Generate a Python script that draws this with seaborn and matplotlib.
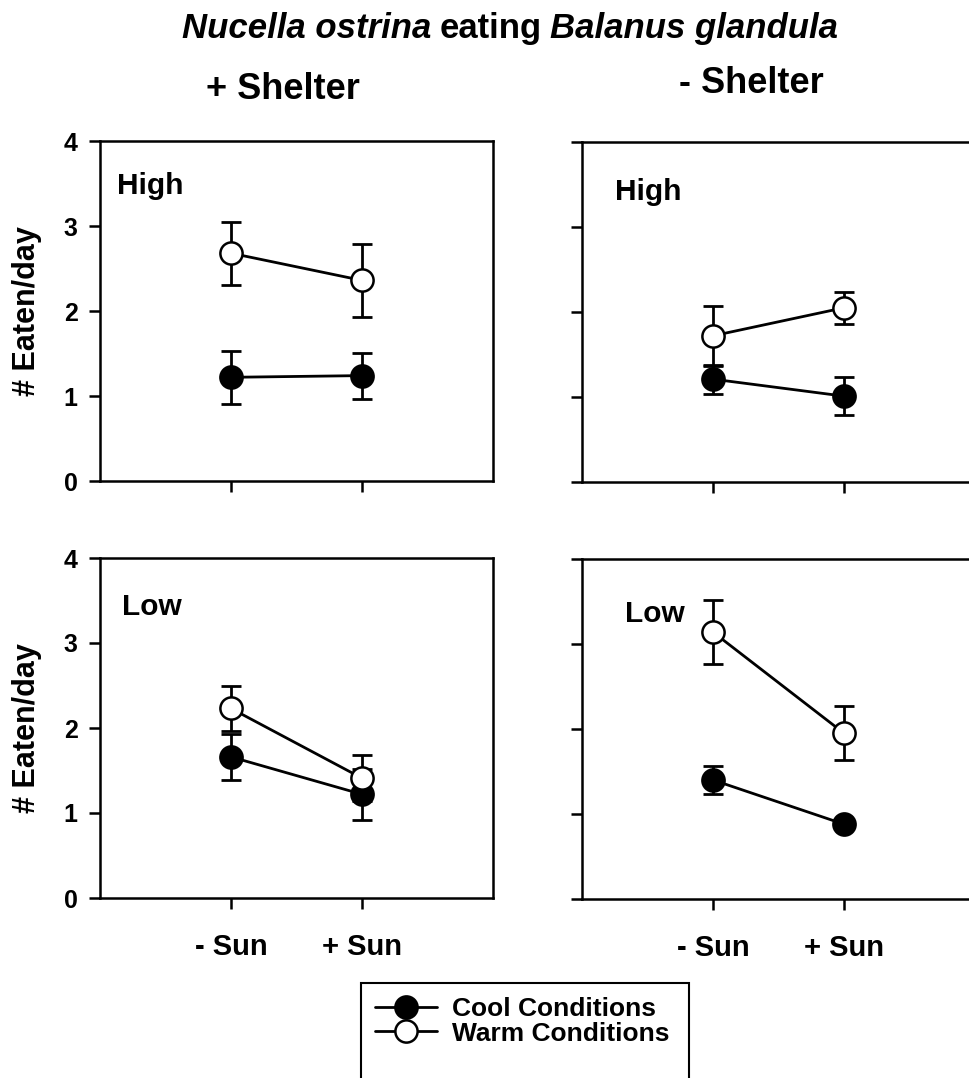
import seaborn as sns
import matplotlib.pyplot as plt
import pandas as pd
from matplotlib.lines import Line2D
from matplotlib.patches import Rectangle

# --- data (mean and error bar half-length) ---
sun_labels = ["- Sun", "+ Sun"]
sun_pos = [0, 1]

warm_plus_high = [2.68, 2.36]
warm_plus_high_err = [0.37, 0.43]
cool_plus_high = [1.22, 1.24]
cool_plus_high_err = [0.31, 0.27]

warm_minus_high = [1.72, 2.05]
warm_minus_high_err = [0.35, 0.19]
cool_minus_high = [1.21, 1.01]
cool_minus_high_err = [0.17, 0.22]

warm_plus_low = [2.23, 1.41]
warm_plus_low_err = [0.26, 0.27]
cool_plus_low = [1.66, 1.22]
cool_plus_low_err = [0.27, 0.30]

warm_minus_low = [3.14, 1.95]
warm_minus_low_err = [0.38, 0.32]
cool_minus_low = [1.40, 0.88]
cool_minus_low_err = [0.165, 0.04]

panels = [
    ("High", cool_plus_high, cool_plus_high_err, warm_plus_high, warm_plus_high_err),
    ("High", cool_minus_high, cool_minus_high_err, warm_minus_high, warm_minus_high_err),
    ("Low", cool_plus_low, cool_plus_low_err, warm_plus_low, warm_plus_low_err),
    ("Low", cool_minus_low, cool_minus_low_err, warm_minus_low, warm_minus_low_err),
]

sns.set_style("ticks")
plt.rcParams["font.family"] = ["Liberation Sans", "DejaVu Sans"]
plt.rcParams["font.weight"] = "bold"
for k in ["text.color", "axes.labelcolor", "xtick.color", "ytick.color", "axes.edgecolor"]:
    plt.rcParams[k] = "black"

W, H = 969, 1078
fig = plt.figure(figsize=(W / 100, H / 100), dpi=100)

# axes boxes in pixels: left, top, width, bottom
boxes = [(100, 141, 393, 481), (582, 142, 393, 482),
         (100, 558, 393, 898), (582, 559, 393, 899)]
label_xy = [(0.043, 0.844), (0.084, 0.829), (0.056, 0.832), (0.109, 0.815)]

ms = 16
lw = 2.0
mew = 1.8
for i, (box, panel) in enumerate(zip(boxes, panels)):
    l, t, w, b = box
    ax = fig.add_axes([l / W, 1 - b / H, w / W, (b - t) / H])
    name, cool, cool_err, warm, warm_err = panel

    df = pd.DataFrame({"sun": sun_pos * 2, "eaten": cool + warm,
                       "cond": ["Cool"] * 2 + ["Warm"] * 2})
    for cond, face, err in [("Cool", "black", cool_err), ("Warm", "white", warm_err)]:
        sub = df[df["cond"] == cond]
        ax.errorbar(sub["sun"], sub["eaten"], yerr=err, fmt="none", ecolor="black",
                    elinewidth=lw, capsize=7, capthick=lw, zorder=2)
        sns.lineplot(data=sub, x="sun", y="eaten", ax=ax, color="black", lw=lw,
                     marker="o", markersize=ms, markerfacecolor=face,
                     markeredgecolor="black", markeredgewidth=mew, zorder=3)

    ax.set_xlim(-1, 2)
    ax.set_ylim(0, 4)
    ax.set_xticks(sun_pos)
    ax.set_yticks([0, 1, 2, 3, 4])
    for sp in ax.spines.values():
        sp.set_linewidth(1.8)
    ax.tick_params(direction="out", length=8, width=1.8, labelsize=18, pad=8)
    ax.tick_params(axis="x", pad=17, labelsize=21)
    ax.set_xlabel("")
    ax.set_ylabel("")
    if i < 2:
        ax.set_xticklabels([])
    else:
        ax.set_xticklabels(sun_labels)
    if i % 2 == 0:
        ax.set_ylabel("# Eaten/day", fontsize=22, fontweight="bold")
        ax.yaxis.set_label_coords(-0.147, 0.5)
    else:
        ax.set_yticklabels([])
    ax.text(label_xy[i][0], label_xy[i][1], name, transform=ax.transAxes,
            fontsize=21.5, fontweight="bold", ha="left", va="baseline")

# title with italic species names
renderer = fig.canvas.get_renderer()
pieces = [("Nucella ostrina", "italic"), ("eating", "normal"), ("Balanus glandula", "italic")]
texts = [fig.text(0, 1 - 38 / H, s, fontsize=25, fontweight="bold", fontstyle=st,
                  va="baseline", ha="left") for s, st in pieces]
space = 8
widths = [t.get_window_extent(renderer).width for t in texts]
total = sum(widths) + space * (len(texts) - 1)
x = 510 - total / 2
for t, wd in zip(texts, widths):
    t.set_x(x / W)
    x += wd + space

fig.text(283 / W, 1 - 99 / H, "+ Shelter", fontsize=26, fontweight="bold", ha="center", va="baseline")
fig.text(751 / W, 1 - 93 / H, "- Shelter", fontsize=26, fontweight="bold", ha="center", va="baseline")

# legend
handles = [Line2D([], [], color="black", lw=lw, marker="o", markersize=ms,
                  markerfacecolor="black", markeredgecolor="black", markeredgewidth=mew),
           Line2D([], [], color="black", lw=lw, marker="o", markersize=ms,
                  markerfacecolor="white", markeredgecolor="black", markeredgewidth=mew)]
fig.legend(handles, ["Cool Conditions", "Warm Conditions"], loc="upper left",
           bbox_to_anchor=(375 / W, 1 - 997 / H), frameon=False,
           handlelength=2.35, handletextpad=0.55, labelspacing=0.02, borderpad=0,
           borderaxespad=0, prop={"weight": "bold", "size": 19})
fig.patches.append(Rectangle((361 / W, -0.05), (689 - 361) / W, 0.05 + 1 - 983 / H,
                             transform=fig.transFigure, fill=False, lw=1.5,
                             edgecolor="black"))

fig.savefig("out.png", dpi=100)
